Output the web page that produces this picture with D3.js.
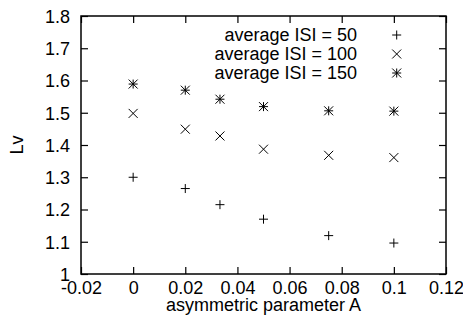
<!DOCTYPE html>
<html><head><meta charset="utf-8">
<script src="https://cdn.jsdelivr.net/npm/d3@7"></script>
<style>body{margin:0;background:#fff}text{font-family:"Liberation Sans",Arial,sans-serif;font-size:18px;fill:#000}</style>
</head><body><svg id="c" width="463" height="333"></svg>
<script>
const xVals = [0, 0.02, 0.0333, 0.05, 0.075, 0.1];
const isi50 = [1.300, 1.265, 1.215, 1.170, 1.119, 1.096];
const isi100 = [1.498, 1.449, 1.428, 1.387, 1.368, 1.361];
const isi150 = [1.589, 1.570, 1.542, 1.519, 1.506, 1.505];
const seriesNames = ["average ISI = 50", "average ISI = 100", "average ISI = 150"];
const xTicks = [-0.02, 0, 0.02, 0.04, 0.06, 0.08, 0.1, 0.12];
const yTicks = [1, 1.1, 1.2, 1.3, 1.4, 1.5, 1.6, 1.7, 1.8];

const svg = d3.select("#c");
const L = 81, R = 446, T = 16, B = 274;
const x = d3.scaleLinear().domain([-0.02, 0.12]).range([L, R]);
const y = d3.scaleLinear().domain([1, 1.8]).range([B, T]);
const fmt = d => String(+d.toFixed(2));

// bottom axis
const gx = svg.append("g").attr("transform", `translate(0,${B})`)
  .call(d3.axisBottom(x).tickValues(xTicks).tickFormat(fmt).tickSizeInner(-7).tickSizeOuter(0).tickPadding(13));
const gxt = svg.append("g").attr("transform", `translate(0,${T})`)
  .call(d3.axisTop(x).tickValues(xTicks).tickFormat("").tickSizeInner(-7).tickSizeOuter(0));
const gy = svg.append("g").attr("transform", `translate(${L},0)`)
  .call(d3.axisLeft(y).tickValues(yTicks).tickFormat(fmt).tickSizeInner(-7).tickSizeOuter(0).tickPadding(11));
const gyr = svg.append("g").attr("transform", `translate(${R},0)`)
  .call(d3.axisRight(y).tickValues(yTicks).tickFormat("").tickSizeInner(-7).tickSizeOuter(0));
[gx, gxt, gy, gyr].forEach(g => {
  g.select(".domain").remove();
  g.selectAll("line").attr("stroke", "#000").attr("stroke-width", 1.2);
  g.selectAll("text").attr("font-family", "Liberation Sans, Arial, sans-serif").attr("font-size", 18).attr("fill", "#000");
});
gx.selectAll("text").attr("dy", null).attr("y", 20);
gy.selectAll("text").attr("dy", "0.36em");

svg.append("rect").attr("x", L).attr("y", T).attr("width", R - L).attr("height", B - T)
  .attr("fill", "none").attr("stroke", "#000").attr("stroke-width", 1.5);

svg.append("text").attr("x", (L + R) / 2).attr("y", 311).attr("text-anchor", "middle").text("asymmetric parameter A");
svg.append("text").attr("transform", `translate(23,${(T + B) / 2}) rotate(-90)`).attr("text-anchor", "middle").text("Lv");

const s = 4.5;
const plus = (g, cx, cy) => g.append("path").attr("d", `M${cx - s},${cy}H${cx + s}M${cx},${cy - s}V${cy + s}`);
const cross = (g, cx, cy) => g.append("path").attr("d", `M${cx - s},${cy - s}L${cx + s},${cy + s}M${cx - s},${cy + s}L${cx + s},${cy - s}`);
const star = (g, cx, cy) => { plus(g, cx, cy); cross(g, cx, cy); };
const markers = [plus, cross, star];
const data = [isi50, isi100, isi150];

const gm = svg.append("g").attr("stroke", "#000").attr("stroke-width", 1).attr("fill", "none");
data.forEach((vals, i) => {
  vals.forEach((v, j) => markers[i](gm, x(xVals[j]), y(v)));
});

const legY = [35, 54, 73];
seriesNames.forEach((n, i) => {
  svg.append("text").attr("x", 357).attr("y", legY[i]).attr("dy", "0.36em").attr("text-anchor", "end").text(n);
  markers[i](gm, 396.7, legY[i]);
});
</script></body></html>
